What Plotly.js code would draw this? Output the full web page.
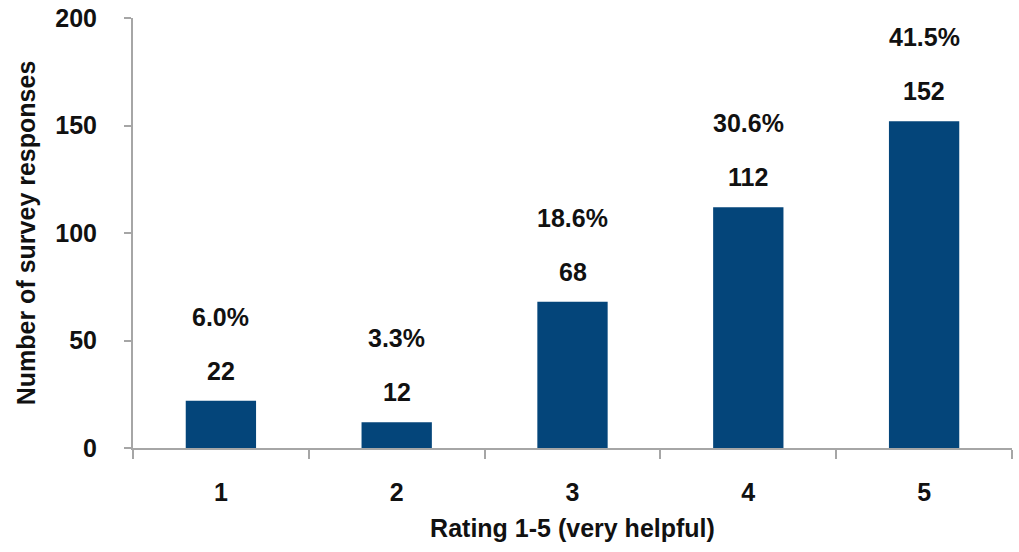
<!DOCTYPE html>
<html>
<head>
<meta charset="utf-8">
<script src="https://cdn.plot.ly/plotly-3.0.1.min.js"></script>
<style>
  html, body { margin: 0; padding: 0; background: #fff; }
  #chart { width: 1019px; height: 552px; }
</style>
</head>
<body>
<div id="chart"></div>
<script>
// Survey: how helpful was it, rated 1 to 5
const ratings = ['1', '2', '3', '4', '5'];
const responses = [22, 12, 68, 112, 152];
const shares = ['6.0%', '3.3%', '18.6%', '30.6%', '41.5%'];

const FONT = '"Liberation Sans Narrow", "Arial Narrow", "Liberation Sans", Arial, sans-serif';
const AXIS_GREY = '#A6A6A6';
const TEXT = '#111';

const trace = {
  type: 'bar',
  x: ratings,
  y: responses,
  marker: { color: '#04457A', line: { width: 0 } },
  hoverinfo: 'x+y'
};

// Count just above each bar, share of all responses above that.
// On a category axis annotations are placed by category index.
const annotations = [];
ratings.forEach((r, i) => {
  annotations.push({
    x: i, y: responses[i], xref: 'x', yref: 'y',
    text: String(responses[i]), showarrow: false,
    yanchor: 'middle', yshift: 30,
    font: { family: FONT, size: 25, color: TEXT, weight: 'bold' }
  });
  annotations.push({
    x: i, y: responses[i], xref: 'x', yref: 'y',
    text: shares[i], showarrow: false,
    yanchor: 'middle', yshift: 84,
    font: { family: FONT, size: 25, color: TEXT, weight: 'bold' }
  });
});

const layout = {
  width: 1019,
  height: 552,
  margin: { l: 133, r: 7, t: 18, b: 104, pad: 0 },
  paper_bgcolor: '#fff',
  plot_bgcolor: '#fff',
  showlegend: false,
  bargap: 0.6,
  font: { family: FONT, color: TEXT },
  xaxis: {
    type: 'category',
    range: [-0.5, 4.5],
    showline: true, linecolor: AXIS_GREY, linewidth: 2,
    ticks: 'outside', tickson: 'boundaries', ticklen: 9, tickwidth: 2, tickcolor: AXIS_GREY,
    ticklabelstandoff: 21,
    tickfont: { family: FONT, size: 25, color: TEXT, weight: 'bold' },
    showgrid: false, zeroline: false,
    title: { text: 'Rating 1-5 (very helpful)', standoff: 14,
             font: { family: FONT, size: 25, color: TEXT, weight: 'bold' } }
  },
  yaxis: {
    range: [0, 200],
    tickvals: [0, 50, 100, 150, 200],
    showline: true, linecolor: AXIS_GREY, linewidth: 2,
    ticks: 'outside', ticklen: 7, tickwidth: 2, tickcolor: AXIS_GREY,
    ticklabelstandoff: 22,
    tickfont: { family: FONT, size: 25, color: TEXT, weight: 'bold' },
    showgrid: false, zeroline: false,
    title: { text: 'Number of survey responses', standoff: 13,
             font: { family: FONT, size: 25, color: TEXT, weight: 'bold' } }
  },
  annotations: annotations
};

Plotly.newPlot('chart', [trace], layout, { displayModeBar: false, staticPlot: true });
</script>
</body>
</html>
